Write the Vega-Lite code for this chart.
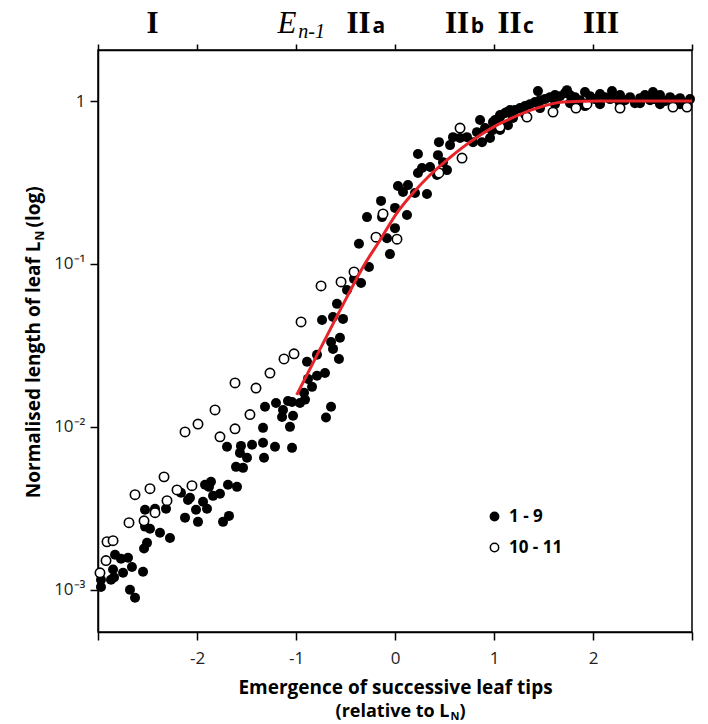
{
  "$schema": "https://vega.github.io/schema/vega-lite/v6.json",
  "width": 594,
  "height": 582,
  "autosize": {"type": "none"},
  "padding": {"left": 98, "top": 50, "right": 16, "bottom": 92},
  "background": "white",
  "config": {
    "font": "Open Sans",
    "view": {"stroke": "black", "strokeWidth": 1.5},
    "axis": {"grid": false, "domainColor": "black", "domainWidth": 1.5, "tickColor": "black", "tickWidth": 1.5, "labelColor": "#222222", "titleColor": "#111111"}
  },
  "datasets": {
    "pts": [
      {"x": -2.970, "y": 0.00104, "g": "1 - 9"}, {"x": -2.970, "y": 0.00115, "g": "1 - 9"}, {"x": -2.869, "y": 0.00115, "g": "1 - 9"},
      {"x": -2.838, "y": 0.00119, "g": "1 - 9"}, {"x": -2.848, "y": 0.00133, "g": "1 - 9"}, {"x": -2.747, "y": 0.00127, "g": "1 - 9"},
      {"x": -2.828, "y": 0.00164, "g": "1 - 9"}, {"x": -2.768, "y": 0.00155, "g": "1 - 9"}, {"x": -2.697, "y": 0.00157, "g": "1 - 9"},
      {"x": -2.657, "y": 0.00138, "g": "1 - 9"}, {"x": -2.545, "y": 0.00129, "g": "1 - 9"}, {"x": -2.677, "y": 0.00100, "g": "1 - 9"},
      {"x": -2.626, "y": 0.000893, "g": "1 - 9"}, {"x": -2.535, "y": 0.00179, "g": "1 - 9"}, {"x": -2.505, "y": 0.00194, "g": "1 - 9"},
      {"x": -2.525, "y": 0.00244, "g": "1 - 9"}, {"x": -2.475, "y": 0.00237, "g": "1 - 9"}, {"x": -2.374, "y": 0.00224, "g": "1 - 9"},
      {"x": -2.273, "y": 0.00208, "g": "1 - 9"}, {"x": -2.525, "y": 0.00310, "g": "1 - 9"}, {"x": -2.424, "y": 0.00314, "g": "1 - 9"},
      {"x": -2.313, "y": 0.00314, "g": "1 - 9"}, {"x": -2.162, "y": 0.00394, "g": "1 - 9"}, {"x": -2.091, "y": 0.00356, "g": "1 - 9"},
      {"x": -2.121, "y": 0.00277, "g": "1 - 9"}, {"x": -2.010, "y": 0.00310, "g": "1 - 9"}, {"x": -1.990, "y": 0.00261, "g": "1 - 9"},
      {"x": -1.939, "y": 0.00347, "g": "1 - 9"}, {"x": -1.919, "y": 0.00441, "g": "1 - 9"}, {"x": -1.899, "y": 0.00314, "g": "1 - 9"},
      {"x": -2.071, "y": 0.00367, "g": "1 - 9"}, {"x": -1.838, "y": 0.00377, "g": "1 - 9"}, {"x": -1.768, "y": 0.00388, "g": "1 - 9"},
      {"x": -1.879, "y": 0.00428, "g": "1 - 9"}, {"x": -1.859, "y": 0.00460, "g": "1 - 9"}, {"x": -1.687, "y": 0.00441, "g": "1 - 9"},
      {"x": -1.596, "y": 0.00428, "g": "1 - 9"}, {"x": -1.737, "y": 0.00261, "g": "1 - 9"}, {"x": -1.677, "y": 0.00284, "g": "1 - 9"},
      {"x": -1.606, "y": 0.00568, "g": "1 - 9"}, {"x": -1.535, "y": 0.00560, "g": "1 - 9"}, {"x": -1.566, "y": 0.00692, "g": "1 - 9"},
      {"x": -1.495, "y": 0.00646, "g": "1 - 9"}, {"x": -1.323, "y": 0.00646, "g": "1 - 9"}, {"x": -1.697, "y": 0.00754, "g": "1 - 9"},
      {"x": -1.556, "y": 0.00764, "g": "1 - 9"}, {"x": -1.444, "y": 0.00776, "g": "1 - 9"}, {"x": -1.333, "y": 0.00798, "g": "1 - 9"},
      {"x": -1.212, "y": 0.00754, "g": "1 - 9"}, {"x": -1.040, "y": 0.00743, "g": "1 - 9"}, {"x": -1.333, "y": 0.00986, "g": "1 - 9"},
      {"x": -1.313, "y": 0.0133, "g": "1 - 9"}, {"x": -1.202, "y": 0.0140, "g": "1 - 9"}, {"x": -1.081, "y": 0.0144, "g": "1 - 9"},
      {"x": -1.131, "y": 0.0127, "g": "1 - 9"}, {"x": -1.030, "y": 0.0117, "g": "1 - 9"}, {"x": -1.141, "y": 0.0115, "g": "1 - 9"},
      {"x": -1.061, "y": 0.0100, "g": "1 - 9"}, {"x": -0.960, "y": 0.0140, "g": "1 - 9"}, {"x": -0.909, "y": 0.0147, "g": "1 - 9"},
      {"x": -0.919, "y": 0.0162, "g": "1 - 9"}, {"x": -0.838, "y": 0.0176, "g": "1 - 9"}, {"x": -0.879, "y": 0.0197, "g": "1 - 9"},
      {"x": -0.788, "y": 0.0206, "g": "1 - 9"}, {"x": -0.707, "y": 0.0214, "g": "1 - 9"}, {"x": -0.889, "y": 0.0251, "g": "1 - 9"},
      {"x": -0.788, "y": 0.0277, "g": "1 - 9"}, {"x": -0.566, "y": 0.0261, "g": "1 - 9"}, {"x": -0.626, "y": 0.0301, "g": "1 - 9"},
      {"x": -0.646, "y": 0.0332, "g": "1 - 9"}, {"x": -0.556, "y": 0.0352, "g": "1 - 9"}, {"x": -0.737, "y": 0.0453, "g": "1 - 9"},
      {"x": -0.626, "y": 0.0473, "g": "1 - 9"}, {"x": -0.525, "y": 0.0460, "g": "1 - 9"}, {"x": -0.586, "y": 0.0569, "g": "1 - 9"},
      {"x": -0.485, "y": 0.0692, "g": "1 - 9"}, {"x": -0.414, "y": 0.0809, "g": "1 - 9"}, {"x": -0.343, "y": 0.0764, "g": "1 - 9"},
      {"x": -0.263, "y": 0.0959, "g": "1 - 9"}, {"x": -0.364, "y": 0.133, "g": "1 - 9"}, {"x": -0.646, "y": 0.0133, "g": "1 - 9"},
      {"x": -0.697, "y": 0.0114, "g": "1 - 9"}, {"x": -1.040, "y": 0.0142, "g": "1 - 9"}, {"x": -0.051, "y": 0.115, "g": "1 - 9"},
      {"x": -0.081, "y": 0.144, "g": "1 - 9"}, {"x": 0.000, "y": 0.166, "g": "1 - 9"}, {"x": -0.283, "y": 0.194, "g": "1 - 9"},
      {"x": -0.131, "y": 0.194, "g": "1 - 9"}, {"x": 0.121, "y": 0.200, "g": "1 - 9"}, {"x": -0.141, "y": 0.244, "g": "1 - 9"},
      {"x": 0.000, "y": 0.221, "g": "1 - 9"}, {"x": 0.030, "y": 0.301, "g": "1 - 9"}, {"x": 0.131, "y": 0.305, "g": "1 - 9"},
      {"x": 0.081, "y": 0.277, "g": "1 - 9"}, {"x": 0.202, "y": 0.273, "g": "1 - 9"}, {"x": 0.323, "y": 0.269, "g": "1 - 9"},
      {"x": 0.232, "y": 0.362, "g": "1 - 9"}, {"x": 0.424, "y": 0.352, "g": "1 - 9"}, {"x": 0.273, "y": 0.388, "g": "1 - 9"},
      {"x": 0.354, "y": 0.394, "g": "1 - 9"}, {"x": 0.525, "y": 0.377, "g": "1 - 9"}, {"x": 0.485, "y": 0.422, "g": "1 - 9"},
      {"x": 0.232, "y": 0.473, "g": "1 - 9"}, {"x": 0.434, "y": 0.466, "g": "1 - 9"}, {"x": 0.444, "y": 0.560, "g": "1 - 9"},
      {"x": 0.556, "y": 0.537, "g": "1 - 9"}, {"x": 0.657, "y": 0.593, "g": "1 - 9"}, {"x": 0.727, "y": 0.601, "g": "1 - 9"},
      {"x": 0.586, "y": 0.601, "g": "1 - 9"}, {"x": 0.788, "y": 0.560, "g": "1 - 9"}, {"x": 0.828, "y": 0.645, "g": "1 - 9"},
      {"x": 0.879, "y": 0.560, "g": "1 - 9"}, {"x": 0.859, "y": 0.765, "g": "1 - 9"}, {"x": 0.909, "y": 0.683, "g": "1 - 9"},
      {"x": 0.960, "y": 0.593, "g": "1 - 9"}, {"x": 0.990, "y": 0.743, "g": "1 - 9"}, {"x": 1.061, "y": 0.821, "g": "1 - 9"},
      {"x": 1.131, "y": 0.857, "g": "1 - 9"}, {"x": 0.980, "y": 0.660, "g": "1 - 9"}, {"x": 1.030, "y": 0.720, "g": "1 - 9"},
      {"x": 1.010, "y": 0.765, "g": "1 - 9"}, {"x": 1.061, "y": 0.798, "g": "1 - 9"}, {"x": 1.111, "y": 0.844, "g": "1 - 9"},
      {"x": 1.162, "y": 0.881, "g": "1 - 9"}, {"x": 1.212, "y": 0.881, "g": "1 - 9"}, {"x": 1.263, "y": 0.906, "g": "1 - 9"},
      {"x": 1.313, "y": 0.932, "g": "1 - 9"}, {"x": 1.364, "y": 0.958, "g": "1 - 9"}, {"x": 1.414, "y": 0.986, "g": "1 - 9"},
      {"x": 1.465, "y": 1.014, "g": "1 - 9"}, {"x": 1.515, "y": 1.029, "g": "1 - 9"}, {"x": 1.566, "y": 1.058, "g": "1 - 9"},
      {"x": 1.616, "y": 1.089, "g": "1 - 9"}, {"x": 1.667, "y": 1.073, "g": "1 - 9"}, {"x": 1.717, "y": 1.120, "g": "1 - 9"},
      {"x": 1.768, "y": 1.089, "g": "1 - 9"}, {"x": 1.818, "y": 1.058, "g": "1 - 9"}, {"x": 1.869, "y": 1.014, "g": "1 - 9"},
      {"x": 1.919, "y": 1.136, "g": "1 - 9"}, {"x": 1.970, "y": 1.073, "g": "1 - 9"}, {"x": 2.020, "y": 1.029, "g": "1 - 9"},
      {"x": 2.071, "y": 1.104, "g": "1 - 9"}, {"x": 2.121, "y": 1.058, "g": "1 - 9"}, {"x": 2.172, "y": 1.029, "g": "1 - 9"},
      {"x": 2.222, "y": 1.043, "g": "1 - 9"}, {"x": 2.273, "y": 1.089, "g": "1 - 9"}, {"x": 2.323, "y": 1.014, "g": "1 - 9"},
      {"x": 2.374, "y": 1.058, "g": "1 - 9"}, {"x": 2.424, "y": 0.972, "g": "1 - 9"}, {"x": 2.475, "y": 1.043, "g": "1 - 9"},
      {"x": 2.525, "y": 1.089, "g": "1 - 9"}, {"x": 2.576, "y": 1.014, "g": "1 - 9"}, {"x": 2.626, "y": 1.029, "g": "1 - 9"},
      {"x": 2.677, "y": 1.089, "g": "1 - 9"}, {"x": 2.727, "y": 1.000, "g": "1 - 9"}, {"x": 2.778, "y": 1.058, "g": "1 - 9"},
      {"x": 2.828, "y": 1.014, "g": "1 - 9"}, {"x": 2.879, "y": 1.043, "g": "1 - 9"}, {"x": 2.929, "y": 0.972, "g": "1 - 9"},
      {"x": 2.980, "y": 1.029, "g": "1 - 9"}, {"x": 1.061, "y": 0.664, "g": "1 - 9"}, {"x": 1.141, "y": 0.712, "g": "1 - 9"},
      {"x": 1.192, "y": 0.787, "g": "1 - 9"}, {"x": 1.313, "y": 0.832, "g": "1 - 9"}, {"x": 1.465, "y": 0.906, "g": "1 - 9"},
      {"x": 1.616, "y": 0.958, "g": "1 - 9"}, {"x": 1.768, "y": 0.972, "g": "1 - 9"}, {"x": 1.919, "y": 0.932, "g": "1 - 9"},
      {"x": 2.071, "y": 0.958, "g": "1 - 9"}, {"x": 2.273, "y": 0.972, "g": "1 - 9"}, {"x": 2.475, "y": 0.972, "g": "1 - 9"},
      {"x": 2.677, "y": 0.958, "g": "1 - 9"}, {"x": 2.879, "y": 0.958, "g": "1 - 9"}, {"x": 1.444, "y": 1.152, "g": "1 - 9"},
      {"x": 1.737, "y": 1.168, "g": "1 - 9"}, {"x": 2.192, "y": 1.152, "g": "1 - 9"}, {"x": 2.606, "y": 1.136, "g": "1 - 9"},
      {"x": -2.980, "y": 0.00127, "g": "10 - 11"}, {"x": -2.919, "y": 0.00151, "g": "10 - 11"}, {"x": -2.909, "y": 0.00197, "g": "10 - 11"},
      {"x": -2.848, "y": 0.00200, "g": "10 - 11"}, {"x": -2.687, "y": 0.00258, "g": "10 - 11"}, {"x": -2.535, "y": 0.00265, "g": "10 - 11"},
      {"x": -2.424, "y": 0.00297, "g": "10 - 11"}, {"x": -2.626, "y": 0.00383, "g": "10 - 11"}, {"x": -2.475, "y": 0.00417, "g": "10 - 11"},
      {"x": -2.333, "y": 0.00493, "g": "10 - 11"}, {"x": -2.303, "y": 0.00352, "g": "10 - 11"}, {"x": -2.202, "y": 0.00410, "g": "10 - 11"},
      {"x": -2.051, "y": 0.00435, "g": "10 - 11"}, {"x": -2.121, "y": 0.00931, "g": "10 - 11"}, {"x": -1.990, "y": 0.0104, "g": "10 - 11"},
      {"x": -1.818, "y": 0.0127, "g": "10 - 11"}, {"x": -1.768, "y": 0.00869, "g": "10 - 11"}, {"x": -1.616, "y": 0.00972, "g": "10 - 11"},
      {"x": -1.465, "y": 0.0119, "g": "10 - 11"}, {"x": -1.616, "y": 0.0186, "g": "10 - 11"}, {"x": -1.404, "y": 0.0173, "g": "10 - 11"},
      {"x": -1.263, "y": 0.0214, "g": "10 - 11"}, {"x": -1.121, "y": 0.0261, "g": "10 - 11"}, {"x": -1.020, "y": 0.0281, "g": "10 - 11"},
      {"x": -0.949, "y": 0.0441, "g": "10 - 11"}, {"x": -0.747, "y": 0.0733, "g": "10 - 11"}, {"x": -0.545, "y": 0.0776, "g": "10 - 11"},
      {"x": -0.414, "y": 0.0893, "g": "10 - 11"}, {"x": -0.192, "y": 0.146, "g": "10 - 11"}, {"x": 0.020, "y": 0.142, "g": "10 - 11"},
      {"x": -0.121, "y": 0.203, "g": "10 - 11"}, {"x": 0.444, "y": 0.362, "g": "10 - 11"}, {"x": 0.677, "y": 0.447, "g": "10 - 11"},
      {"x": 0.657, "y": 0.683, "g": "10 - 11"}, {"x": 1.061, "y": 0.693, "g": "10 - 11"}, {"x": 1.333, "y": 0.798, "g": "10 - 11"},
      {"x": 1.596, "y": 0.856, "g": "10 - 11"}, {"x": 1.828, "y": 0.906, "g": "10 - 11"}, {"x": 1.939, "y": 0.958, "g": "10 - 11"},
      {"x": 2.273, "y": 0.906, "g": "10 - 11"}, {"x": 2.808, "y": 0.919, "g": "10 - 11"}, {"x": 2.949, "y": 0.919, "g": "10 - 11"}
    ],
    "fit": [
      {"x": -0.993, "y": 0.0157}, {"x": -0.828, "y": 0.0247}, {"x": -0.657, "y": 0.0394}, {"x": -0.485, "y": 0.0628},
      {"x": -0.323, "y": 0.0959}, {"x": -0.152, "y": 0.140}, {"x": 0.020, "y": 0.206}, {"x": 0.182, "y": 0.273},
      {"x": 0.354, "y": 0.352}, {"x": 0.525, "y": 0.435}, {"x": 0.687, "y": 0.522}, {"x": 0.859, "y": 0.618},
      {"x": 1.030, "y": 0.713}, {"x": 1.090, "y": 0.743}, {"x": 1.434, "y": 0.906}, {"x": 1.700, "y": 0.986},
      {"x": 2.070, "y": 1.0}, {"x": 3.0, "y": 1.0}
    ]
  },
  "resolve": {"axis": {"x": "independent", "y": "independent"}},
  "layer": [
    {
      "mark": {"type": "rule", "color": "#b8b8b8", "strokeDash": [6, 4], "strokeWidth": 1.5},
      "encoding": {
        "x": {
          "datum": -1, "type": "quantitative",
          "scale": {"domain": [-3, 3], "nice": false, "zero": false},
          "axis": {
            "orient": "top", "values": [-3, -2, -1, 0, 1, 2, 3], "labels": false, "ticks": true, "tickSize": 6, "domain": true,
            "title": "(relative to L", "titleX": 351, "titleY": 666, "titleAlign": "right", "titleAngle": 0,
            "titleBaseline": "alphabetic", "titleFontSize": 18, "titleFontWeight": "bold", "titleColor": "black"
          }
        }
      }
    },
    {
      "data": {"name": "pts"},
      "transform": [{"filter": "datum.g == '1 - 9'"}],
      "mark": {"type": "point", "shape": "circle", "filled": true, "size": 100, "opacity": 1, "strokeWidth": 0},
      "encoding": {
        "x": {
          "field": "x", "type": "quantitative",
          "scale": {"domain": [-3, 3], "nice": false, "zero": false},
          "axis": {
            "orient": "bottom", "values": [-3, -2, -1, 0, 1, 2, 3],
            "labelExpr": "abs(datum.value) > 2.5 ? '' : '' + datum.value",
            "tickSize": 8, "labelFontSize": 17, "labelPadding": 10, "labelFlush": false,
            "title": "Emergence of successive leaf tips", "titleFontSize": 19, "titleFontWeight": "bold", "titleColor": "black",
            "titleX": 297, "titleY": 61, "titleAlign": "center", "titleBaseline": "alphabetic", "titleAngle": 0
          }
        },
        "y": {
          "field": "y", "type": "quantitative",
          "scale": {"type": "log", "domain": [0.00055, 2.06], "nice": false},
          "axis": {
            "orient": "left", "values": [0.001, 0.01, 0.1, 1],
            "labelExpr": "datum.value >= 0.5 ? '1' : datum.value > 0.05 ? '10⁻¹' : datum.value > 0.005 ? '10⁻²' : '10⁻³'",
            "tickSize": 8, "labelFontSize": 17, "labelPadding": 5,
            "title": "Normalised length of leaf L", "titleX": -59, "titleY": 191, "titleAlign": "right", "titleAngle": 270,
            "titleBaseline": "alphabetic", "titleFontSize": 19, "titleFontWeight": "bold", "titleColor": "black"
          }
        },
        "fill": {
          "field": "g", "type": "nominal",
          "scale": {"domain": ["1 - 9", "10 - 11"], "range": ["black", "white"]},
          "legend": {
            "title": null, "orient": "none", "legendX": 388, "legendY": 458, "padding": 0,
            "symbolType": "circle", "symbolSize": 70, "symbolStrokeColor": "black", "symbolStrokeWidth": 1.5,
            "labelFont": "Open Sans", "labelFontSize": 17, "labelFontWeight": "bold", "labelColor": "black",
            "rowPadding": 13, "labelOffset": 6
          }
        }
      }
    },
    {
      "data": {"name": "pts"},
      "transform": [{"filter": "datum.g == '10 - 11'"}],
      "mark": {"type": "point", "shape": "circle", "filled": true, "size": 88, "opacity": 1, "stroke": "black", "strokeWidth": 1.6},
      "encoding": {
        "x": {
          "field": "x", "type": "quantitative",
          "scale": {"domain": [-3, 3], "nice": false, "zero": false},
          "axis": {
            "orient": "top", "values": [-0.848, -0.167, 0.828, 1.343],
            "labelExpr": "datum.value < -0.5 ? 'n-1' : datum.value < 0 ? 'a' : datum.value < 1 ? 'b' : 'c'",
            "ticks": false, "domain": false, "labelOverlap": false, "labelFlush": false, "labelBound": false,
            "labelFont": {"condition": {"test": "datum.value < -0.5", "value": "Liberation Serif"}, "value": "Open Sans"},
            "labelFontStyle": {"condition": {"test": "datum.value < -0.5", "value": "italic"}, "value": "normal"},
            "labelFontWeight": {"condition": {"test": "datum.value < -0.5", "value": "normal"}, "value": "bold"},
            "labelFontSize": {"condition": {"test": "datum.value < -0.5", "value": 20}, "value": 21},
            "labelPadding": {"condition": {"test": "datum.value < -0.5", "value": 13}, "value": 18},
            "labelBaseline": "alphabetic", "labelColor": "black",
            "title": ")", "titleX": 361, "titleY": 666, "titleAlign": "left", "titleAngle": 0,
            "titleBaseline": "alphabetic", "titleFontSize": 18, "titleFontWeight": "bold", "titleColor": "black"
          }
        },
        "y": {
          "field": "y", "type": "quantitative",
          "scale": {"type": "log", "domain": [0.00055, 2.06], "nice": false},
          "axis": {
            "orient": "left", "labels": false, "ticks": false, "domain": false,
            "title": "(log)", "titleX": -59, "titleY": 177, "titleAlign": "left", "titleAngle": 270,
            "titleBaseline": "alphabetic", "titleFontSize": 19, "titleFontWeight": "bold", "titleColor": "black"
          }
        },
        "fill": {
          "field": "g", "type": "nominal",
          "scale": {"domain": ["1 - 9", "10 - 11"], "range": ["black", "white"]}
        }
      }
    },
    {
      "data": {"name": "fit"},
      "mark": {"type": "line", "color": "#e6242a", "strokeWidth": 3, "interpolate": "monotone"},
      "encoding": {
        "x": {
          "field": "x", "type": "quantitative",
          "scale": {"domain": [-3, 3], "nice": false, "zero": false},
          "axis": {
            "orient": "top", "values": [-2.455, -1.096, -0.374, 0.621, 1.152, 2.076],
            "labelExpr": "datum.value < -2 ? 'I' : datum.value < -1 ? 'E' : datum.value < 2 ? 'II' : 'III'",
            "ticks": false, "domain": false, "labelOverlap": false, "labelFlush": false, "labelBound": false,
            "labelFont": "Liberation Serif", "labelFontSize": 31,
            "labelFontWeight": {"condition": {"test": "datum.value < -1 && datum.value > -2", "value": "normal"}, "value": "bold"},
            "labelFontStyle": {"condition": {"test": "datum.value < -1 && datum.value > -2", "value": "italic"}, "value": "normal"},
            "labelBaseline": "alphabetic", "labelPadding": 18, "labelColor": "black",
            "title": "N", "titleX": 352, "titleY": 669, "titleAlign": "left", "titleAngle": 0,
            "titleBaseline": "alphabetic", "titleFontSize": 11, "titleFontWeight": "bold", "titleColor": "black"
          }
        },
        "y": {
          "field": "y", "type": "quantitative",
          "scale": {"type": "log", "domain": [0.00055, 2.06], "nice": false},
          "axis": {
            "orient": "left", "labels": false, "ticks": false, "domain": false,
            "title": "N", "titleX": -55, "titleY": 190, "titleAlign": "left", "titleAngle": 270,
            "titleBaseline": "alphabetic", "titleFontSize": 12, "titleFontWeight": "bold", "titleColor": "black"
          }
        }
      }
    }
  ]
}
